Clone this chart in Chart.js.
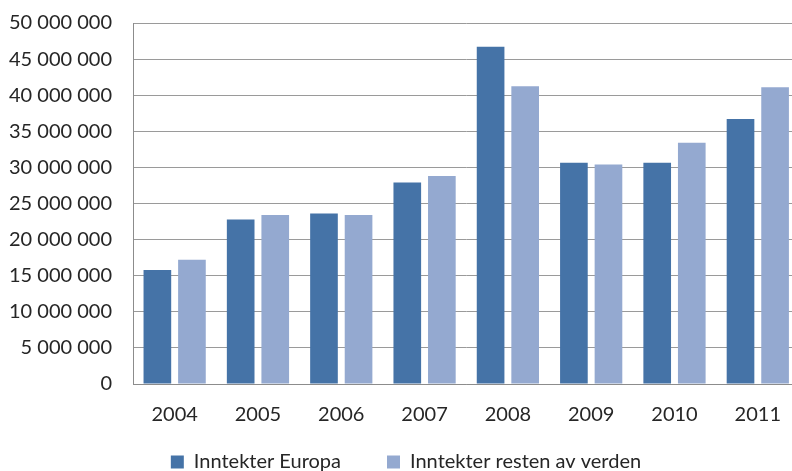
<!DOCTYPE html>
<html>
<head>
<meta charset="utf-8">
<script src="https://cdn.jsdelivr.net/npm/chart.js@4.4.1/dist/chart.umd.min.js"></script>
<style>
  html, body { margin: 0; padding: 0; background: #fff; overflow: hidden; }
  #wrap { width: 792px; height: 471px; overflow: hidden; }
  #chart { display: block; margin-top: -10px; }
</style>
</head>
<body>
<div id="wrap">
  <canvas id="chart" width="800" height="532"></canvas>
</div>
<script>
// Inntekter per år (NOK)
const years = ['2004', '2005', '2006', '2007', '2008', '2009', '2010', '2011'];
const inntekterEuropa = [15800000, 22800000, 23600000, 27900000, 46700000, 30650000, 30650000, 36700000];
const inntekterResten = [17200000, 23400000, 23400000, 28800000, 41250000, 30400000, 33400000, 41100000];
const yTickValues = [0, 5000000, 10000000, 15000000, 20000000, 25000000, 30000000, 35000000, 40000000, 45000000, 50000000];
const yTickLabels = ['0', '5 000 000', '10 000 000', '15 000 000', '20 000 000', '25 000 000',
  '30 000 000', '35 000 000', '40 000 000', '45 000 000', '50 000 000'];

const textColor = '#262626';
const font = { family: 'Lato', size: 20 };

// nudge the legend a bit right and up from where the layout puts it
const legendNudge = {
  id: 'legendNudge',
  afterLayout(chart) {
    const lg = chart.legend;
    lg.left += 6; lg.right += 6;
    lg.top -= 40; lg.bottom -= 40;
  }
};

const ctx = document.getElementById('chart').getContext('2d');
new Chart(ctx, {
  type: 'bar',
  data: {
    labels: years,
    datasets: [
      {
        label: 'Inntekter Europa',
        data: inntekterEuropa,
        backgroundColor: '#4573A7',
        borderWidth: 0,
        barPercentage: 0.8,
        categoryPercentage: 0.83
      },
      {
        label: 'Inntekter resten av verden',
        data: inntekterResten,
        backgroundColor: '#94A9D0',
        borderWidth: 0,
        barPercentage: 0.8,
        categoryPercentage: 0.83
      }
    ]
  },
  plugins: [legendNudge],
  options: {
    responsive: false,
    animation: false,
    layout: { padding: 0 },
    plugins: {
      tooltip: { enabled: false },
      legend: {
        position: 'bottom',
        labels: {
          color: textColor,
          font: font,
          boxWidth: 13,
          boxHeight: 13,
          padding: 46
        }
      }
    },
    scales: {
      x: {
        grid: { display: false, drawTicks: false },
        border: { display: true, color: '#8c8c8c', width: 1 },
        ticks: { color: textColor, font: font, padding: 19, maxRotation: 0 }
      },
      y: {
        min: 0,
        max: 50000000,
        afterFit: (scale) => { scale.width = 133; },
        afterBuildTicks: (scale) => {
          scale.ticks = yTickValues.map(v => ({ value: v }));
        },
        grid: { color: '#9a9a9a', lineWidth: 1, drawTicks: false },
        border: { display: true, color: '#8c8c8c', width: 1 },
        ticks: {
          color: textColor,
          font: font,
          padding: 21,
          callback: (value, index) => yTickLabels[index]
        }
      }
    }
  }
});
</script>
</body>
</html>
